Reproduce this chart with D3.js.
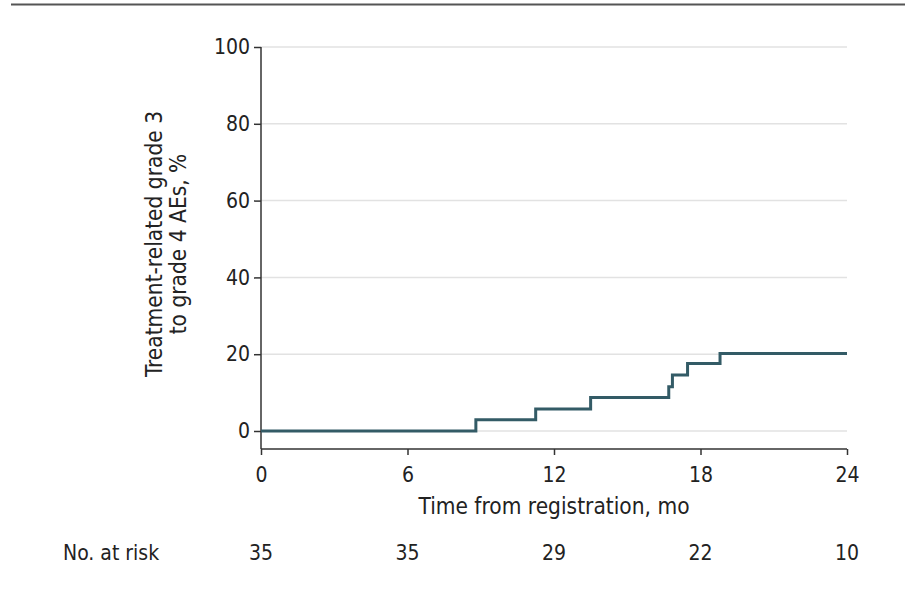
<!DOCTYPE html>
<html>
<head>
<meta charset="utf-8">
<script src="https://cdn.jsdelivr.net/npm/d3@7"></script>
<style>
  body { margin: 0; background: #fff; }
  text { font-family: "Liberation Sans Narrow", "DejaVu Sans Condensed", "Open Sans", sans-serif; fill: #222; }
</style>
</head>
<body>
<div class="container"></div>
<script>
// step times (months) and cumulative incidence (%)
const stepTimes = [0, 8.8, 11.25, 13.5, 16.7, 16.85, 17.47, 18.8, 24]
const stepValues = [0, 2.9, 5.7, 8.7, 11.5, 14.6, 17.6, 20.2, 20.2]
const xTicks = [0, 6, 12, 18, 24]
const yTicks = [0, 20, 40, 60, 80, 100]
const atRisk = [35, 35, 29, 22, 10]

const w = 910
const h = 590
const svg = d3.select('.container')
              .append('svg')
              .attr('width', w)
              .attr('height', h)

// top rule
svg.append('line')
   .attr('x1', 11).attr('x2', 905)
   .attr('y1', 4.5).attr('y2', 4.5)
   .attr('stroke', '#555')
   .attr('stroke-width', 2)

const xScale = d3.scaleLinear().domain([0, 24]).range([261, 847])
const yScale = d3.scaleLinear().domain([0, 100]).range([431, 47])
const yBottom = 449

// grid
svg.append('g')
   .selectAll('line')
   .data(yTicks)
   .enter()
   .append('line')
   .attr('x1', xScale(0))
   .attr('x2', xScale(24))
   .attr('y1', (d) => yScale(d))
   .attr('y2', (d) => yScale(d))
   .attr('stroke', '#e2e2e2')
   .attr('stroke-width', 1.5)

// y axis
const yAxis = d3.axisLeft(yScale).tickValues(yTicks).tickSize(7).tickPadding(4)
const gy = svg.append('g')
   .attr('transform', 'translate(' + xScale(0) + ',0)')
   .call(yAxis)
gy.select('.domain').remove()
gy.append('line')
  .attr('x1', 0).attr('x2', 0)
  .attr('y1', yScale(100)).attr('y2', yBottom)
  .attr('stroke', '#333').attr('stroke-width', 1.5)
gy.selectAll('.tick line').attr('stroke', '#333').attr('stroke-width', 1.5)
gy.selectAll('.tick text').style('font-size', '21px').attr('fill', '#222')

// x axis
const xAxis = d3.axisBottom(xScale).tickValues(xTicks).tickSize(6).tickPadding(12)
const gx = svg.append('g')
   .attr('transform', 'translate(0,' + yBottom + ')')
   .call(xAxis)
gx.select('.domain').remove()
gx.append('line')
  .attr('x1', xScale(0)).attr('x2', xScale(24))
  .attr('stroke', '#333').attr('stroke-width', 1.5)
gx.selectAll('.tick line').attr('stroke', '#333').attr('stroke-width', 1.5)
gx.selectAll('.tick text').style('font-size', '21px').attr('fill', '#222')

// step curve
const line = d3.line()
               .x((d, i) => xScale(stepTimes[i]))
               .y((d) => yScale(d))
               .curve(d3.curveStepAfter)
svg.append('path')
   .datum(stepValues)
   .attr('d', line)
   .attr('fill', 'none')
   .attr('stroke', '#335b66')
   .attr('stroke-width', 3)

// axis titles
svg.append('text')
   .attr('x', xScale(12))
   .attr('y', 514)
   .attr('text-anchor', 'middle')
   .style('font-size', '22.5px')
   .text('Time from registration, mo')

const yTitle = svg.append('text')
   .attr('transform', 'translate(162,' + 244 + ') rotate(-90)')
   .attr('text-anchor', 'middle')
   .style('font-size', '22.5px')
yTitle.append('tspan').attr('x', 0).attr('dy', 0).text('Treatment-related grade 3')
yTitle.append('tspan').attr('x', 0).attr('dy', 24).text('to grade 4 AEs, %')

// number at risk
svg.append('text')
   .attr('x', 63)
   .attr('y', 560)
   .style('font-size', '21px')
   .text('No. at risk')
svg.append('g')
   .selectAll('text')
   .data(atRisk)
   .enter()
   .append('text')
   .attr('x', (d, i) => xScale(xTicks[i]))
   .attr('y', 560)
   .attr('text-anchor', 'middle')
   .style('font-size', '21px')
   .text((d) => d)
</script>
</body>
</html>
